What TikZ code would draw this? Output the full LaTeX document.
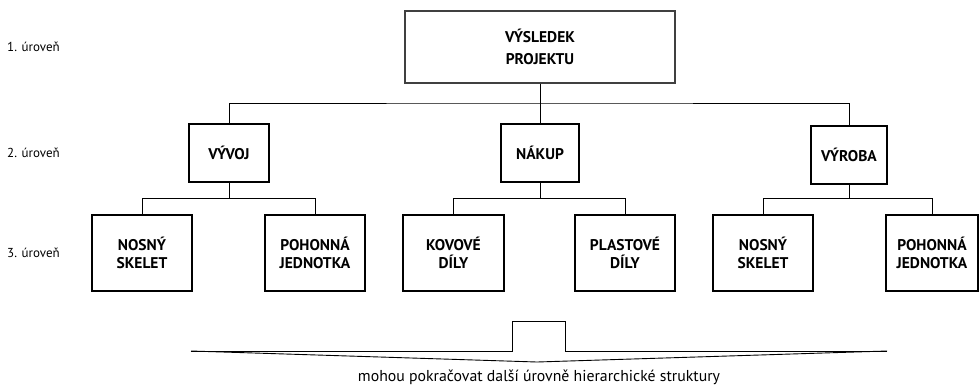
\documentclass[tikz,border=0pt]{standalone}
\usepackage{fontspec}
\setmainfont{PT Sans}
\begin{document}
\begin{tikzpicture}[x=1pt,y=-1pt,
  box/.style={draw=black,line width=1.2pt,inner sep=0pt,align=center,
    font=\fontsize{15.5}{18}\selectfont\bfseries},
  conn/.style={draw=black,line width=0.8pt},
  lvl/.style={anchor=west,inner sep=0pt,font=\fontsize{13}{15}\selectfont}]
\useasboundingbox (0,0) rectangle (979,386);

% level labels
\node[lvl] (l1) at (7,47) {1. úroveň};
\node[lvl] (l2) at (7,153) {2. úroveň};
\node[lvl] (l3) at (7,253) {3. úroveň};

% level 1
\node[box,draw=black!75,line width=1.5pt,minimum width=270,minimum height=72,
  font=\fontsize{15.5}{22}\selectfont\bfseries] (top) at (540,47) {VÝSLEDEK\\PROJEKTU};

% level 2
\node[box,minimum width=80,minimum height=58] (vyvoj) at (229,153) {VÝVOJ};
\node[box,minimum width=78,minimum height=58] (nakup) at (540,153) {NÁKUP};
\node[box,minimum width=76,minimum height=58] (vyroba) at (849,155) {VÝROBA};

% level 3
\node[box,minimum width=100,minimum height=76] (n1) at (142,253) {NOSNÝ\\SKELET};
\node[box,minimum width=100,minimum height=76] (p1) at (315,253) {POHONNÁ\\JEDNOTKA};
\node[box,minimum width=101,minimum height=76] (k)  at (453.5,253) {KOVOVÉ\\DÍLY};
\node[box,minimum width=100,minimum height=76] (pl) at (625,253) {PLASTOVÉ\\DÍLY};
\node[box,minimum width=100,minimum height=76] (n2) at (763,253) {NOSNÝ\\SKELET};
\node[box,minimum width=92,minimum height=76]  (p2) at (932,253) {POHONNÁ\\JEDNOTKA};

% bus lines
\coordinate (b0) at (540,103);
\coordinate (b1) at (229,198.5);
\coordinate (b2) at (540,198.5);
\coordinate (b3) at (849,198.5);

\draw[conn] (top.south) -- (nakup.north);
\draw[conn] (vyvoj.north) |- (b0) -| (vyroba.north);

\draw[conn] (vyvoj.south) -- (b1);
\draw[conn] (n1.north) |- (b1) -| (p1.north);
\draw[conn] (nakup.south) -- (b2);
\draw[conn] (k.north) |- (b2) -| (pl.north);
\draw[conn] (vyroba.south) -- (b3);
\draw[conn] (n2.north) |- (b3) -| (p2.north);

% continuation brace with a small open box
\coordinate (bl) at (191,351);
\coordinate (br) at (887,351);
\coordinate (btip) at (537,362);
\draw[conn] (bl) -- (512,351) -- (512,321) -- (565,321) -- (565,351) -- (br);
\draw[conn,line width=0.9pt] (bl) -- (btip) -- (br);

\node[inner sep=0pt,font=\fontsize{15.8}{18}\selectfont] (cont) at (539,377)
  {mohou pokračovat další úrovně hierarchické struktury};
\end{tikzpicture}
\end{document}
